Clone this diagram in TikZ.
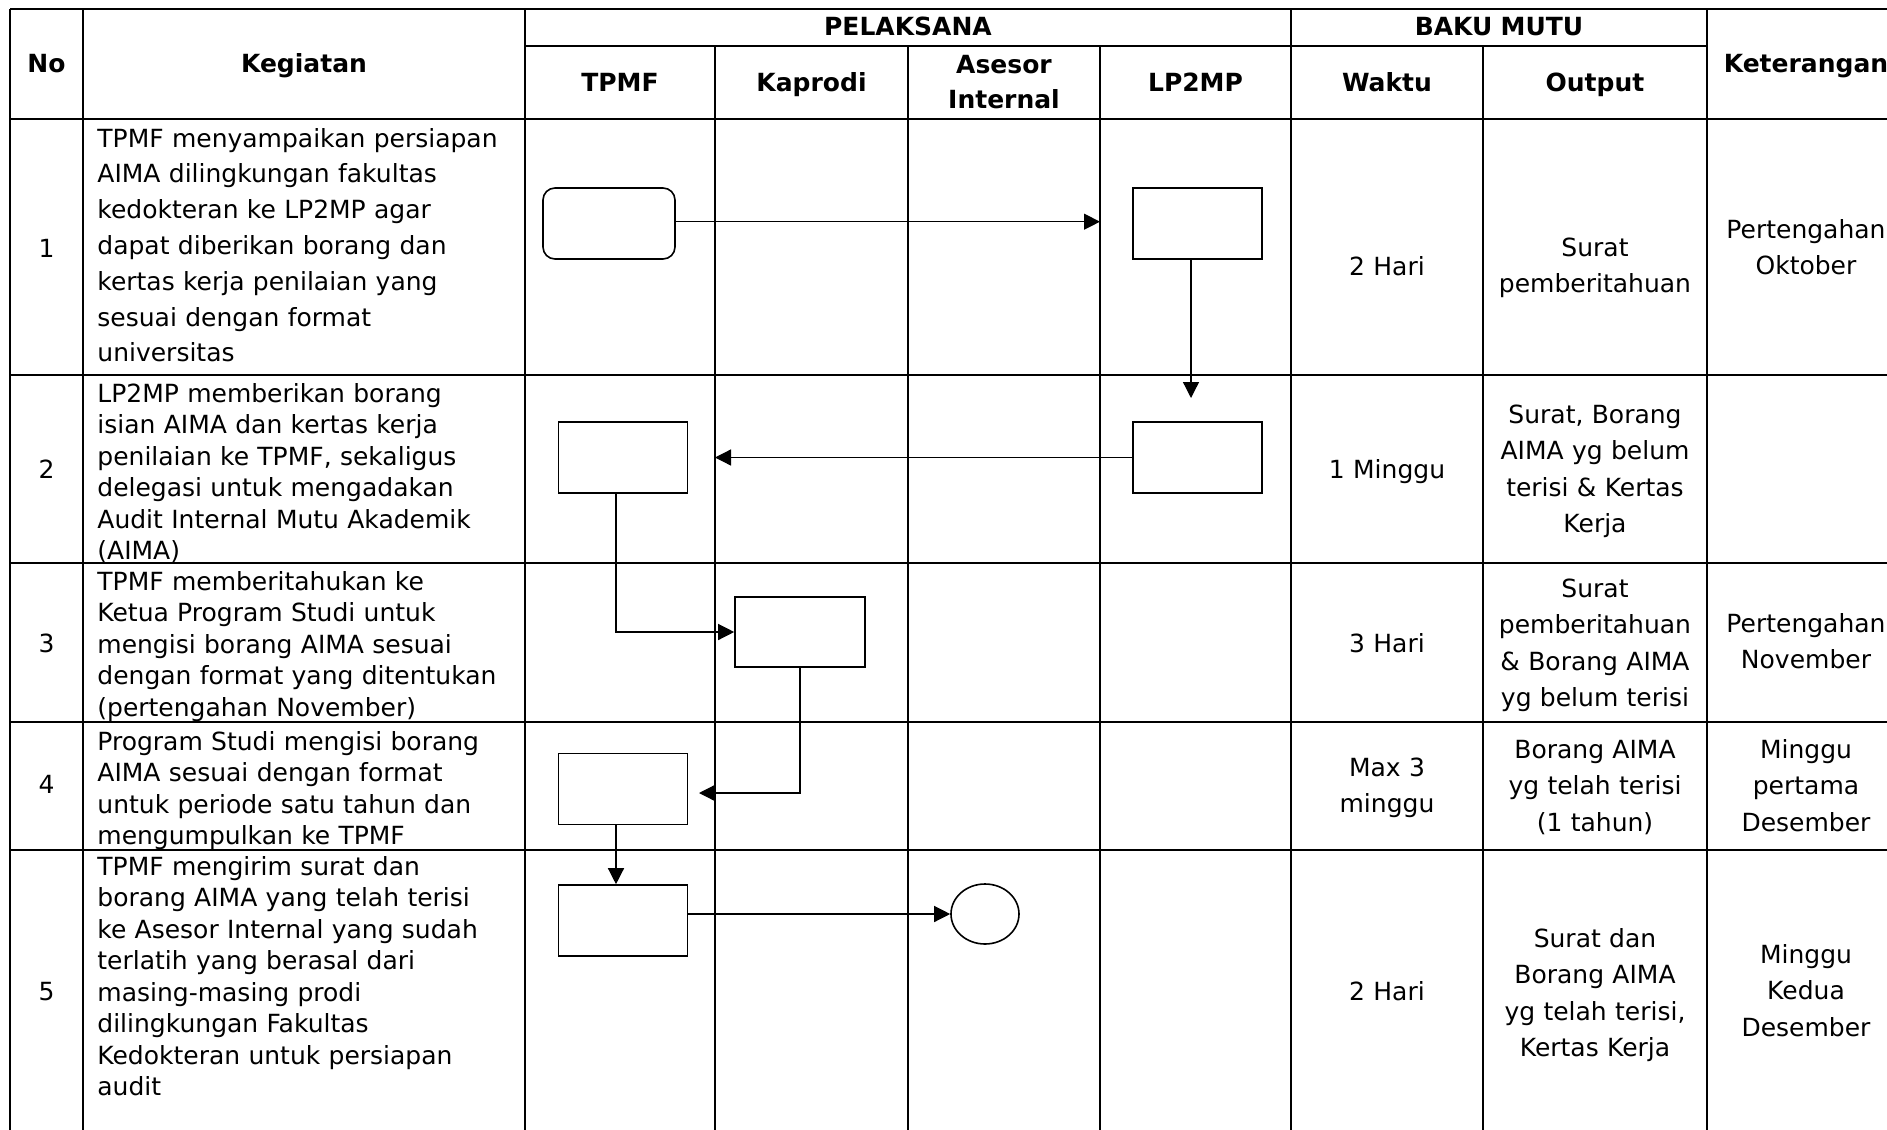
\documentclass[tikz,border=0pt]{standalone}
\usepackage{fontspec}
\setmainfont{DejaVu Sans}
\usetikzlibrary{arrows.meta,calc,shapes.geometric}
\begin{document}
\begin{tikzpicture}[x=0.5pt,y=-0.5pt,
  gridline/.style={line width=1.0pt},
  procbox/.style={draw, line width=0.8pt, minimum width=64.5pt, minimum height=35.5pt, inner sep=0pt},
  startbox/.style={procbox, rounded corners=6pt, minimum width=66pt},
  connbox/.style={ellipse, draw, line width=0.8pt, minimum width=34pt, minimum height=30pt, inner sep=0pt},
  flow/.style={line width=0.65pt, -{Triangle[length=8pt,width=8pt]}},
  hdr/.style={anchor=base, inner sep=0pt, align=center, text width=110pt, font=\bfseries\fontsize{12.5pt}{17.5pt}\selectfont},
  kegA/.style={anchor=base west, inner sep=0pt, align=left, text width=230pt, font=\fontsize{12.5pt}{17.9pt}\selectfont},
  kegB/.style={anchor=base west, inner sep=0pt, align=left, text width=230pt, font=\fontsize{12.5pt}{15.75pt}\selectfont},
  cell/.style={anchor=base, inner sep=0pt, align=center, text width=110pt, font=\fontsize{12.5pt}{18.25pt}\selectfont}
]
\useasboundingbox (0,0) rectangle (1887,1130);
\fill[white] (0,0) rectangle (1887,1130);
\clip (0,0) rectangle (1887,1130);

% grid
\draw[gridline] (10,9) -- (1920,9);
\draw[gridline] (525,46) -- (1707,46);
\foreach \yy in {119,375,563,722,850} \draw[gridline] (10,\yy) -- (1920,\yy);
\foreach \xx in {10,83,525,1291,1707,1905} \draw[gridline] (\xx,9) -- (\xx,1140);
\foreach \xx in {715,908,1100,1483} \draw[gridline] (\xx,46) -- (\xx,1140);

% header
\node[hdr] (hNo) at (46.5,72) {No};
\node[hdr] (hKeg) at (304,72) {Kegiatan};
\node[hdr] (hPel) at (908,35) {PELAKSANA};
\node[hdr] (hBaku) at (1499,35) {BAKU MUTU};
\node[hdr] (hTPMF) at (620,91) {TPMF};
\node[hdr] (hKap) at (811.5,91) {Kaprodi};
\node[hdr] (hAse) at (1004,73) {Asesor\\Internal};
\node[hdr] (hLP) at (1195.5,91) {LP2MP};
\node[hdr] (hWak) at (1387,91) {Waktu};
\node[hdr] (hOut) at (1595,91) {Output};
\node[hdr] (hKet) at (1806,72) {Keterangan};

% numbers
\node[cell] (n1) at (46.5,257) {1};
\node[cell] (n2) at (46.5,478) {2};
\node[cell] (n3) at (46.5,652) {3};
\node[cell] (n4) at (46.5,793) {4};
\node[cell] (n5) at (46.5,1000) {5};

% kegiatan
\node[kegA] (k1) at (97,147) {TPMF menyampaikan persiapan\\AIMA dilingkungan fakultas\\kedokteran ke LP2MP agar\\dapat diberikan borang dan\\kertas kerja penilaian yang\\sesuai dengan format\\universitas};
\node[kegB] (k2) at (97,402) {LP2MP memberikan borang\\isian AIMA dan kertas kerja\\penilaian ke TPMF, sekaligus\\delegasi untuk mengadakan\\Audit Internal Mutu Akademik\\(AIMA)};
\node[kegB] (k3t) at (97,590) {TPMF memberitahukan ke\\Ketua Program Studi untuk\\mengisi borang AIMA sesuai\\dengan format yang ditentukan\\(pertengahan November)};
\node[kegB] (k4) at (97,750) {Program Studi mengisi borang\\AIMA sesuai dengan format\\untuk periode satu tahun dan\\mengumpulkan ke TPMF};
\node[kegB] (k5) at (97,875) {TPMF mengirim surat dan\\borang AIMA yang telah terisi\\ke Asesor Internal yang sudah\\terlatih yang berasal dari\\masing-masing prodi\\dilingkungan Fakultas\\Kedokteran untuk persiapan\\audit};

% waktu
\node[cell] (w1) at (1387,275) {2 Hari};
\node[cell] (w2) at (1387,478) {1 Minggu};
\node[cell] (w3) at (1387,652) {3 Hari};
\node[cell] (w4) at (1387,776) {Max 3\\minggu};
\node[cell] (w5) at (1387,1000) {2 Hari};

% output
\node[cell] (o1) at (1595,256) {Surat\\pemberitahuan};
\node[cell] (o2) at (1595,423) {Surat, Borang\\AIMA yg belum\\terisi \& Kertas\\Kerja};
\node[cell] (o3) at (1595,597) {Surat\\pemberitahuan\\\& Borang AIMA\\yg belum terisi};
\node[cell] (o4) at (1595,758) {Borang AIMA\\yg telah terisi\\(1 tahun)};
\node[cell] (o5) at (1595,947) {Surat dan\\Borang AIMA\\yg telah terisi,\\Kertas Kerja};

% keterangan
\node[cell] (r1) at (1806,238) {Pertengahan\\Oktober};
\node[cell] (r3) at (1806,632) {Pertengahan\\November};
\node[cell] (r4) at (1806,758) {Minggu\\pertama\\Desember};
\node[cell] (r5) at (1806,963) {Minggu\\Kedua\\Desember};

% flow shapes
\node[startbox] (s1) at (609,223.5) {};
\node[procbox] (p1) at (1197.5,223.5) {};
\node[procbox] (p2) at (1197.5,457.5) {};
\node[procbox] (t2) at (623,457.5) {};
\node[procbox, minimum width=65pt, minimum height=35pt] (kp3) at (800,632) {};
\node[procbox] (t4) at (623,789) {};
\node[procbox] (t5) at (623,920.5) {};
\node[connbox] (c5) at (985,914) {};

% connectors
\coordinate (lane1) at (715,0);
\coordinate (lane3) at (1100,0);
\coordinate (tpx) at (616,0);
\coordinate (y1) at (0,221.7);
\coordinate (e2) at (1191,398);
\coordinate (e5) at (699,793);
\draw[flow] (s1.east |- y1) -- (lane3 |- y1);
\draw[flow] (p1.south -| e2) -- (e2);
\draw[flow] (p2.west) -- (p2.west -| lane1);
\draw[flow] (t2.south -| tpx) |- (kp3.west);
\draw[flow] (kp3.south) |- (e5);
\draw[flow] (t4.south -| tpx) -- (t5.north -| tpx);
\draw[flow] (t5.east |- c5.west) -- (c5.west);
\end{tikzpicture}
\end{document}
